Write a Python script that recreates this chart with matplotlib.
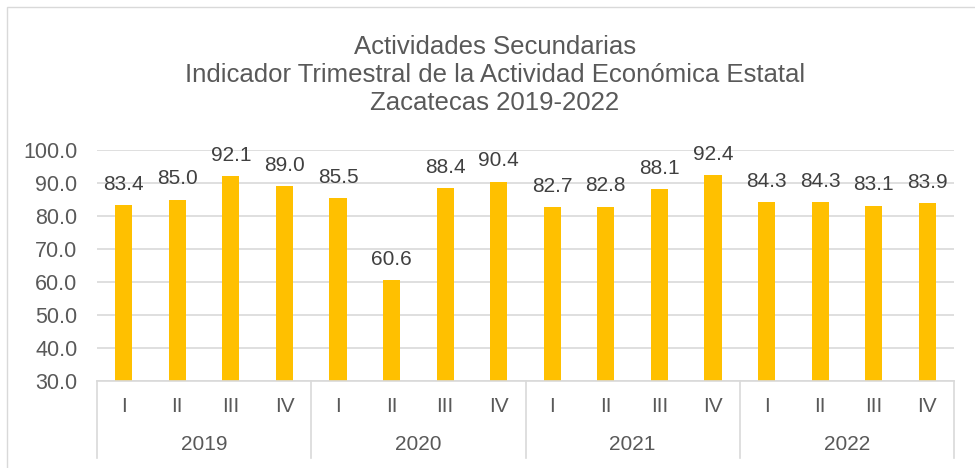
import matplotlib.pyplot as plt
from matplotlib.patches import Rectangle

plt.rcParams['font.family'] = ['Liberation Sans', 'DejaVu Sans']

years = ['2019', '2020', '2021', '2022']
quarters = ['I', 'II', 'III', 'IV']
values = [83.4, 85.0, 92.1, 89.0,
          85.5, 60.6, 88.4, 90.4,
          82.7, 82.8, 88.1, 92.4,
          84.3, 84.3, 83.1, 83.9]

W, H = 975, 468
fig = plt.figure(figsize=(W / 100, H / 100), dpi=100)

# outer chart border (only top/left visible in the reference)
fig.patches.append(Rectangle((7 / W, -0.05), 1.05, 1 - 7 / H + 0.05,
                             transform=fig.transFigure, fill=False,
                             edgecolor='#D9D9D9', linewidth=1))

ax = fig.add_axes([97 / W, 1 - 381 / H, (954 - 97) / W, (381 - 150) / H])

x = list(range(len(values)))
ax.bar(x, values, width=0.32, color='#FFC000', zorder=2)
ax.set_xlim(-0.5, len(values) - 0.5)
ax.set_ylim(30, 100)
ax.set_yticks(range(30, 101, 10))
ax.set_yticklabels([f'{v:.1f}' for v in range(30, 101, 10)])
ax.tick_params(axis='y', length=0, pad=14, labelsize=15.5, labelcolor='#595959')
ax.set_xticks([])
ax.grid(axis='y', color='#D9D9D9', linewidth=1.2, zorder=0)
for s in ['top', 'right', 'left']:
    ax.spines[s].set_visible(False)
ax.spines['bottom'].set_color('#D9D9D9')
ax.spines['bottom'].set_linewidth(1.2)

for xi, v in zip(x, values):
    ax.annotate(f'{v:.1f}', (xi, v), xytext=(0, 11), textcoords='offset points',
                ha='center', va='baseline', fontsize=15, color='#404040',
                annotation_clip=False)

# two-level category axis
trans = ax.get_xaxis_transform()
px = 1 / (381 - 150)  # one pixel in axes-y units
for i, q in enumerate(quarters * len(years)):
    ax.text(i, -(407 - 381) * px, q, transform=trans, ha='center', va='center',
            fontsize=15, color='#595959')
for j, yr in enumerate(years):
    ax.text(j * 4 + 1.5, -(445 - 381) * px, yr, transform=trans, ha='center',
            va='center', fontsize=15, color='#595959')
for j in range(len(years) + 1):
    ax.plot([j * 4 - 0.5, j * 4 - 0.5], [0, -(458 - 381) * px], transform=trans,
            color='#D9D9D9', linewidth=1.2, clip_on=False)

fig.text(495 / W, 1 - 75 / H,
         'Actividades Secundarias\nIndicador Trimestral de la Actividad Económica Estatal\nZacatecas 2019-2022',
         ha='center', va='center', fontsize=18.5, color='#595959', linespacing=1.2)

fig.savefig('out.png', dpi=100)
